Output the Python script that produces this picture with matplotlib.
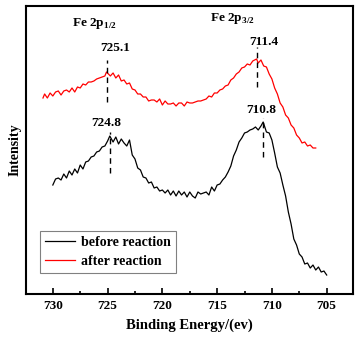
import matplotlib
matplotlib.use("Agg")
import matplotlib.pyplot as plt
from matplotlib.ticker import MultipleLocator

plt.rcParams["font.family"] = ["Liberation Serif", "DejaVu Serif"]
plt.rcParams["font.weight"] = "bold"
plt.rcParams["mathtext.fontset"] = "custom"
plt.rcParams["mathtext.rm"] = "Liberation Serif:bold"
plt.rcParams["mathtext.bf"] = "Liberation Serif:bold"

# before reaction (black)
be_before = [730.0, 729.75, 729.5, 729.25, 729.0, 728.75, 728.5, 728.25, 728.0, 727.75,
             727.5, 727.25, 727.0, 726.75, 726.5, 726.25, 726.0, 725.75, 725.5, 725.25,
             725.0, 724.8, 724.5, 724.25, 724.0, 723.75, 723.5, 723.25, 723.0, 722.75,
             722.5, 722.25, 722.0, 721.75, 721.5, 721.25, 721.0, 720.75, 720.5, 720.25,
             720.0, 719.75, 719.5, 719.25, 719.0, 718.75, 718.5, 718.25, 718.0, 717.75,
             717.5, 717.25, 717.0, 716.75, 716.5, 716.25, 716.0, 715.75, 715.5, 715.25,
             715.0, 714.75, 714.5, 714.25, 714.0, 713.75, 713.5, 713.25, 713.0, 712.75,
             712.5, 712.25, 712.0, 711.75, 711.5, 711.25, 711.0, 710.8, 710.5, 710.25,
             710.0, 709.75, 709.5, 709.25, 709.0, 708.75, 708.5, 708.25, 708.0, 707.75,
             707.5, 707.25, 707.0, 706.75, 706.5, 706.25, 706.0, 705.75, 705.5, 705.25,
             705.0]
int_before = [109, 115, 116, 114, 120, 116, 123, 119, 125, 121,
              129, 125, 132, 133, 137, 138, 142, 143, 147, 148,
              153, 158, 152, 157, 150, 155, 151, 148, 154, 139,
              135, 126, 124, 117, 116, 111, 112, 106, 107, 103,
              104, 101, 104, 99, 103, 98, 103, 99, 102, 97,
              102, 98, 96, 102, 100, 101, 102, 99, 107, 103,
              109, 110, 114, 117, 122, 128, 138, 144, 152, 156,
              161, 162, 164, 165, 167, 164, 168, 172, 162, 161,
              154, 141, 127, 121, 109, 98, 82, 70, 55, 49,
              40, 37, 30, 31, 26, 29, 24, 27, 22, 23,
              19]

# after reaction (red)
be_after = [730.9, 730.75, 730.5, 730.25, 730.0, 729.75, 729.5, 729.25, 729.0, 728.75,
            728.5, 728.25, 728.0, 727.75, 727.5, 727.25, 727.0, 726.75, 726.5, 726.25,
            726.0, 725.75, 725.5, 725.25, 725.1, 724.75, 724.5, 724.25, 724.0, 723.75,
            723.5, 723.25, 723.0, 722.75, 722.5, 722.25, 722.0, 721.75, 721.5, 721.25,
            721.0, 720.75, 720.5, 720.25, 720.0, 719.75, 719.5, 719.25, 719.0, 718.75,
            718.5, 718.25, 718.0, 717.75, 717.5, 717.25, 717.0, 716.75, 716.5, 716.25,
            716.0, 715.75, 715.5, 715.25, 715.0, 714.75, 714.5, 714.25, 714.0, 713.75,
            713.5, 713.25, 713.0, 712.75, 712.5, 712.25, 712.0, 711.75, 711.4, 711.25,
            711.0, 710.75, 710.5, 710.25, 710.0, 709.75, 709.5, 709.25, 709.0, 708.75,
            708.5, 708.25, 708.0, 707.75, 707.5, 707.25, 707.0, 706.75, 706.5, 706.25,
            706.0]
int_after = [196, 200, 196, 201, 198, 202, 203, 199, 203, 204,
             202, 206, 202, 207, 206, 210, 209, 212, 212, 213,
             215, 216, 217, 218, 222, 218, 221, 216, 219, 213,
             214, 210, 211, 205, 204, 200, 200, 197, 197, 193,
             194, 194, 192, 195, 189, 193, 190, 190, 191, 188,
             191, 191, 188, 192, 191, 191, 192, 193, 193, 194,
             195, 198, 197, 201, 201, 204, 205, 208, 209, 214,
             216, 220, 222, 226, 227, 230, 229, 233, 235, 231,
             234, 228, 227, 220, 215, 206, 200, 191, 187, 179,
             176, 169, 166, 159, 156, 151, 152, 148, 149, 146,
             146]

# peak markers: (position, dashed line bottom, top, label x, label y)
peak_pos = [725.1, 711.4, 724.8, 710.8]
peak_lo = [192, 207, 121, 137]
peak_hi = [234, 247, 162, 176]
peak_label_x = [724.35, 710.75, 725.15, 710.95]
peak_label_y = [246, 252, 171, 184]

fig = plt.figure(figsize=(3.59, 3.44), dpi=100)
ax = fig.add_axes([0.0724, 0.1453, 0.9108, 0.8373])

ax.plot(be_before, int_before, color="black", lw=0.9, label="before reaction")
ax.plot(be_after, int_after, color="red", lw=0.9, label="after reaction")

for p, lo, hi, lx, ly in zip(peak_pos, peak_lo, peak_hi, peak_label_x, peak_label_y):
    ax.plot([p, p], [lo, hi], color="black", lw=1.0, ls=(0, (4, 3)))
    ax.text(lx, ly, f"{p:.1f}", ha="center", va="center", fontsize=9.5, fontweight="bold")

ax.text(726.2, 270, r"Fe 2p$_{1/2}$", ha="center", va="center", fontsize=9.5, fontweight="bold")
ax.text(713.6, 275, r"Fe 2p$_{3/2}$", ha="center", va="center", fontsize=9.5, fontweight="bold")

ax.set_xlim(732.45, 702.6)
ax.set_ylim(0, 288)
ax.xaxis.set_major_locator(MultipleLocator(5))
ax.xaxis.set_minor_locator(MultipleLocator(2.5))
ax.tick_params(axis="x", which="both", direction="in", top=False, labelsize=9.5, pad=4)
ax.tick_params(axis="x", which="major", length=4, width=1.2)
ax.tick_params(axis="x", which="minor", length=2.5, width=1.2)
ax.set_yticks([])
for s in ax.spines.values():
    s.set_linewidth(1.5)

ax.set_xlabel("Binding Energy/(ev)", fontsize=10.5, fontweight="bold", labelpad=5)
ax.set_ylabel("Intensity", fontsize=10, fontweight="bold", labelpad=3)

leg = ax.legend(loc="lower left", bbox_to_anchor=(0.043, 0.073), borderaxespad=0,
                fancybox=False, framealpha=1, edgecolor="gray", fontsize=10,
                handlelength=2.2, handletextpad=0.4, borderpad=0.35, labelspacing=0.45)
leg.get_frame().set_linewidth(0.8)

fig.savefig("out.png", dpi=100)
